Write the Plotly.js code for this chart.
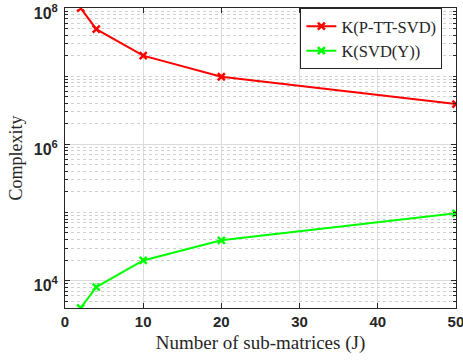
<!DOCTYPE html>
<html>
<head>
<meta charset="utf-8">
<script src="https://cdn.plot.ly/plotly-3.0.1.min.js"></script>
<style>html,body{margin:0;padding:0;background:#fff;}#chart{width:463px;height:360px;}</style>
</head>
<body>
<div id="chart"></div>
<script>
var J = [2, 4, 10, 20, 50];
var kPTTSVD = [1.0e8, 4.9e7, 2.0e7, 9.8e6, 3.9e6];
var kSVDY = [3.95e3, 8.0e3, 1.97e4, 3.9e4, 9.7e4];
var seriesNames = ['K(P-TT-SVD)', 'K(SVD(Y))'];
var xTicks = [0, 10, 20, 30, 40, 50];
var xTickText = ['<b>0</b>', '<b>10</b>', '<b>20</b>', '<b>30</b>', '<b>40</b>', '<b>50</b>'];
var yTickVals = [1e4, 1e6, 1e8];
var yTickText = ['<b>10<sup>4</sup></b>', '<b>10<sup>6</sup></b>', '<b>10<sup>8</sup></b>'];

var minorVals = [];
for (var e = 3; e <= 7; e++) {
  for (var m = 1; m <= 9; m++) {
    var v = m * Math.pow(10, e);
    if (yTickVals.indexOf(v) < 0) minorVals.push(v);
  }
}

var sans = 'Liberation Sans, Arial, sans-serif';
var serif = 'Liberation Serif, Times New Roman, serif';

var traces = [
  {x: J, y: kPTTSVD, name: seriesNames[0], type: 'scatter', mode: 'lines+markers',
   line: {color: '#ff0000', width: 2}, marker: {symbol: 'x-thin-open', size: 7, color: '#ff0000', line: {color: '#ff0000', width: 2.5}}},
  {x: J, y: kSVDY, name: seriesNames[1], type: 'scatter', mode: 'lines+markers',
   line: {color: '#00ff00', width: 2}, marker: {symbol: 'x-thin-open', size: 7, color: '#00ff00', line: {color: '#00ff00', width: 2.5}}},
  {x: J, y: kSVDY, yaxis: 'y2', type: 'scatter', mode: 'markers', showlegend: false, hoverinfo: 'skip',
   marker: {opacity: 0}}
];

var yr = [Math.log10(3.95e3), 8.0005];
var layout = {
  width: 463, height: 360,
  margin: {l: 65, r: 7, t: 8, b: 52},
  paper_bgcolor: '#fff', plot_bgcolor: '#fff',
  showlegend: true,
  legend: {x: 0.602, y: 1, xanchor: 'left', yanchor: 'top', bgcolor: '#fff', bordercolor: '#262626', borderwidth: 1,
           font: {family: serif, size: 16.5, color: '#262626'}, tracegroupgap: 0, itemwidth: 30},
  xaxis: {range: [0, 50.01], tickvals: xTicks, ticktext: xTickText, ticks: 'inside', ticklen: 5, tickcolor: '#262626',
          showline: true, linecolor: '#262626', linewidth: 1, mirror: 'ticks', ticklabeloverflow: 'allow',
          showgrid: true, gridcolor: '#dcdcdc', gridwidth: 1, zeroline: false,
          tickfont: {family: sans, size: 15, color: '#262626'},
          title: {text: 'Number of sub-matrices (J)', font: {family: serif, size: 19, color: '#262626'}, standoff: 6}},
  yaxis: {type: 'log', range: yr, tickvals: yTickVals, ticktext: yTickText, ticks: 'inside', ticklen: 5, tickcolor: '#262626',
          showline: true, linecolor: '#262626', linewidth: 1, mirror: 'ticks', ticklabeloverflow: 'allow',
          ticklabelshift: 5, ticklabelstandoff: 3,
          showgrid: true, gridcolor: '#dcdcdc', gridwidth: 1, zeroline: false,
          tickfont: {family: sans, size: 16, color: '#262626'},
          title: {text: 'Complexity', font: {family: serif, size: 18, color: '#262626'}, standoff: 6}},
  yaxis2: {type: 'log', range: yr, overlaying: 'y', side: 'left', tickvals: minorVals, ticks: 'inside', ticklen: 3,
           tickcolor: '#262626', showticklabels: false, mirror: 'ticks', showline: false,
           showgrid: true, gridcolor: '#d0d0d0', griddash: 'dot', gridwidth: 1, zeroline: false}
};

Plotly.newPlot('chart', traces, layout, {staticPlot: true, displayModeBar: false});
</script>
</body>
</html>
